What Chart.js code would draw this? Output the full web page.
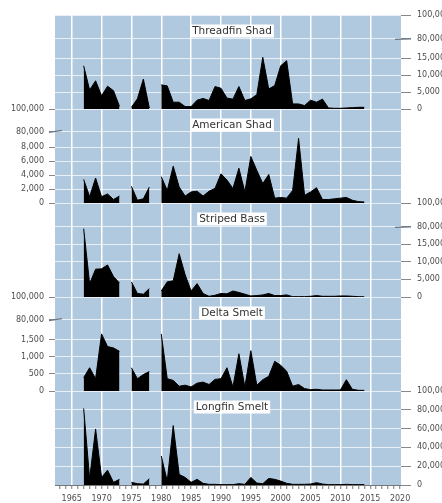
<!DOCTYPE html>
<html>
<head>
<meta charset="utf-8">
<script src="https://cdn.jsdelivr.net/npm/chart.js@4.4.1/dist/chart.umd.min.js"></script>
<style>
  html, body { margin: 0; padding: 0; background: #fff; }
  #wrap { position: relative; width: 442px; height: 503px; overflow: hidden; }
  #wrap canvas { position: absolute; left: 0; top: 0; }
</style>
</head>
<body>
<div id="wrap">
  <canvas id="p0" width="442" height="503"></canvas>
  <canvas id="p1" width="442" height="503"></canvas>
  <canvas id="p2" width="442" height="503"></canvas>
  <canvas id="p3" width="442" height="503"></canvas>
  <canvas id="p4" width="442" height="503"></canvas>
</div>
<script>
// survey years (no samples in 1974 and 1979)
var years = [1967, 1968, 1969, 1970, 1971, 1972, 1973, 1974, 1975, 1976, 1977, 1978, 1979,
  1980, 1981, 1982, 1983, 1984, 1985, 1986, 1987, 1988, 1989, 1990, 1991, 1992, 1993, 1994,
  1995, 1996, 1997, 1998, 1999, 2000, 2001, 2002, 2003, 2004, 2005, 2006, 2007, 2008, 2009,
  2010, 2011, 2012, 2013, 2014];

var threadfinShad = [12700, 5600, 8300, 3900, 6700, 5400, 800, null, 500, 3000, 8800, 300, null,
  7100, 6800, 2000, 2000, 700, 700, 2600, 3100, 2500, 6600, 6100, 3200, 2900, 6600, 2500,
  3000, 4200, 15200, 5900, 6900, 12700, 14200, 1500, 1500, 1000, 2600, 2000, 2900, 300, 200,
  200, 300, 400, 500, 500];
var americanShad = [3400, 900, 3600, 900, 1300, 500, 1000, null, 2400, 400, 600, 2300, null,
  3800, 1800, 5300, 2300, 1000, 1600, 1700, 1000, 1700, 2100, 4200, 3300, 2100, 5000, 1600,
  6700, 4700, 2800, 4100, 700, 800, 700, 1800, 9300, 1100, 1600, 2200, 500, 500, 600,
  700, 800, 400, 200, 150];
var stripedBass = [19400, 3800, 7900, 8000, 9100, 5800, 4000, null, 4300, 1000, 800, 2400, null,
  1700, 4300, 4600, 12300, 6300, 1700, 3800, 1000, 200, 500, 1000, 900, 1700, 1300, 800,
  300, 400, 600, 1000, 400, 400, 600, 100, 100, 100, 200, 400, 200, 200, 200,
  300, 300, 200, 100, 50];
var deltaSmelt = [390, 680, 360, 1670, 1300, 1260, 1160, null, 680, 360, 480, 570, null,
  1670, 360, 310, 140, 170, 120, 230, 260, 190, 340, 360, 680, 120, 1090, 120,
  1180, 170, 330, 430, 870, 750, 580, 140, 190, 70, 40, 50, 30, 30, 30,
  30, 330, 50, 20, 20];
var longfinSmelt = [81400, 7000, 59600, 8100, 15800, 2800, 6000, null, 2800, 1400, 1000, 6700, null,
  30900, 4200, 63200, 11200, 8100, 2800, 6000, 1800, 700, 700, 400, 400, 400, 1400, 700,
  8100, 2100, 1400, 7000, 6000, 4200, 1800, 700, 700, 700, 1000, 2500, 1000, 400, 400,
  400, 700, 400, 400, 400];

var panelTitles = ['Threadfin Shad', 'American Shad', 'Striped Bass', 'Delta Smelt', 'Longfin Smelt'];
var panelSeries = [threadfinShad, americanShad, stripedBass, deltaSmelt, longfinSmelt];
var axisSide = ['right', 'left', 'right', 'left', 'right'];
var axisBroken = [true, true, true, true, false];

// each panel's axis: tick positions and the labels printed next to them
var threadfinTicks = [0, 5000, 10000, 15000, 20600, 27650];
var threadfinTickLabels = ['0', '5,000', '10,000', '15,000', '80,000', '100,000'];
var americanTicks = [0, 2000, 4000, 6000, 8000, 10300, 13530];
var americanTickLabels = ['0', '2,000', '4,000', '6,000', '8,000', '80,000', '100,000'];
var stripedTicks = [0, 5000, 10000, 15000, 19900, 26700];
var stripedTickLabels = ['0', '5,000', '10,000', '15,000', '80,000', '100,000'];
var deltaTicks = [0, 500, 1000, 1500, 2090, 2750];
var deltaTickLabels = ['0', '500', '1,000', '1,500', '80,000', '100,000'];
var longfinTicks = [0, 20000, 40000, 60000, 80000, 100000];
var longfinTickLabels = ['0', '20,000', '40,000', '60,000', '80,000', '100,000'];

var panelTicks = [threadfinTicks, americanTicks, stripedTicks, deltaTicks, longfinTicks];
var panelTickLabels = [threadfinTickLabels, americanTickLabels, stripedTickLabels, deltaTickLabels, longfinTickLabels];

var yearLabels = [1965, 1970, 1975, 1980, 1985, 1990, 1995, 2000, 2005, 2010, 2015, 2020];

var PLOT_TOP = 15, PANEL_H = 94, PLOT_LEFT = 55, PLOT_RIGHT = 401, W = 442, H = 503;
var FONT = '"DejaVu Sans", Verdana, sans-serif';

var panelBackground = {
  id: 'panelBackground',
  beforeDraw: function (chart) {
    var a = chart.chartArea, ctx = chart.ctx;
    ctx.save();
    ctx.fillStyle = '#b1c9df';
    ctx.fillRect(a.left, a.top, a.right - a.left, a.bottom - a.top);
    ctx.restore();
  }
};

var panelTitle = {
  id: 'panelTitle',
  afterDatasetsDraw: function (chart, args, opts) {
    var a = chart.chartArea, ctx = chart.ctx;
    ctx.save();
    ctx.font = '10.5px ' + FONT;
    var w = ctx.measureText(opts.text).width;
    var cx = (a.left + a.right) / 2 + 4, cy = a.top + 16;
    ctx.fillStyle = '#fff';
    ctx.fillRect(cx - w / 2 - 2, cy - 6.5, w + 4, 13);
    ctx.fillStyle = '#333';
    ctx.textAlign = 'center';
    ctx.textBaseline = 'middle';
    ctx.fillText(opts.text, cx, cy);
    ctx.restore();
  }
};

// on broken axes the "80,000" tick marks the break: a longer dash there
var axisBreak = {
  id: 'axisBreak',
  afterDraw: function (chart, args, opts) {
    if (!opts.broken) return;
    var s = chart.scales.y, a = chart.chartArea, ctx = chart.ctx;
    s.ticks.forEach(function (t) {
      if (t.label !== '80,000') return;
      var y = s.getPixelForValue(t.value);
      ctx.save();
      ctx.strokeStyle = '#6a7784';
      ctx.lineWidth = 1.2;
      ctx.beginPath();
      if (s.position === 'left') {
        ctx.moveTo(a.left - 6, y + 1);
        ctx.lineTo(a.left + 7, y - 1);
      } else {
        ctx.moveTo(a.right - 6, y + 0.5);
        ctx.lineTo(a.right + 10, y);
      }
      ctx.stroke();
      ctx.restore();
    });
  }
};

function makePanel(i) {
  var isLast = i === panelSeries.length - 1;
  var side = axisSide[i];
  var top = PLOT_TOP + PANEL_H * i;
  var bottom = H - (top + PANEL_H) - (isLast ? 18 : 0);
  var ticks = panelTicks[i], tickLabels = panelTickLabels[i];

  var points = years.map(function (yr, k) { return { x: yr, y: panelSeries[i][k] }; });

  return new Chart(document.getElementById('p' + i), {
    type: 'line',
    data: {
      datasets: [{
        label: panelTitles[i],
        data: points,
        borderColor: '#000',
        backgroundColor: '#000',
        borderWidth: 1,
        fill: 'origin',
        pointRadius: 0,
        tension: 0,
        spanGaps: false
      }]
    },
    options: {
      responsive: false,
      animation: false,
      devicePixelRatio: 1,
      layout: {
        padding: {
          top: top,
          bottom: bottom,
          left: side === 'right' ? PLOT_LEFT : 0,
          right: side === 'left' ? W - PLOT_RIGHT : 0
        }
      },
      plugins: {
        legend: { display: false },
        tooltip: { enabled: false },
        panelTitle: { text: panelTitles[i] },
        axisBreak: { broken: axisBroken[i] }
      },
      scales: {
        x: {
          type: 'linear',
          min: 1962.2,
          max: 2020.15,
          afterBuildTicks: function (scale) {
            var t = [];
            for (var y = 1963; y <= 2020; y++) t.push({ value: y });
            scale.ticks = t;
          },
          afterFit: function (scale) { scale.height = isLast ? 18 : 0; },
          border: { display: isLast, color: '#777', width: 1 },
          grid: {
            drawTicks: isLast,
            tickLength: 4,
            lineWidth: 1.5,
            color: function (c) {
              return c.tick && c.tick.value % 5 === 0 && c.tick.value < 2020 ? '#ffffff' : 'rgba(0,0,0,0)';
            },
            tickColor: '#777',
            tickWidth: 1
          },
          ticks: {
            display: isLast,
            autoSkip: false,
            maxRotation: 0,
            padding: 5,
            color: '#4d4d4d',
            font: { family: FONT, size: 8 },
            callback: function (v) { return yearLabels.indexOf(v) >= 0 ? String(v) : ''; }
          }
        },
        y: {
          type: 'linear',
          position: side,
          min: 0,
          max: ticks[ticks.length - 1],
          afterBuildTicks: function (scale) {
            scale.ticks = ticks.map(function (v) { return { value: v }; });
          },
          afterFit: function (scale) { scale.width = side === 'left' ? PLOT_LEFT : W - PLOT_RIGHT; },
          border: { display: false },
          grid: {
            drawTicks: true,
            tickLength: side === 'left' ? 6 : 10,
            color: 'rgba(255,255,255,0.7)',
            lineWidth: 1,
            tickColor: '#888'
          },
          ticks: {
            padding: side === 'left' ? 5 : 6,
            color: '#4d4d4d',
            font: { family: FONT, size: 8 },
            callback: function (v) { return tickLabels[ticks.indexOf(v)]; }
          }
        }
      }
    },
    plugins: [panelBackground, panelTitle, axisBreak]
  });
}

for (var i = 0; i < panelSeries.length; i++) makePanel(i);
</script>
</body>
</html>
